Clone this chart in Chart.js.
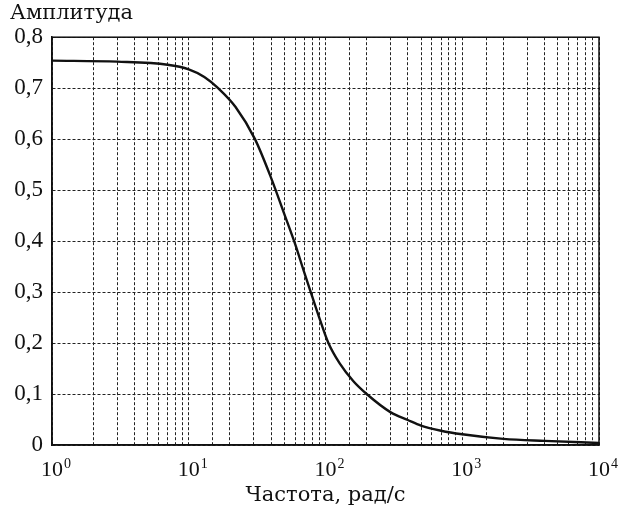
<!DOCTYPE html>
<html>
<head>
<meta charset="utf-8">
<script src="https://cdn.jsdelivr.net/npm/chart.js@4/dist/chart.umd.min.js"></script>
<style>
    html, body { margin: 0; padding: 0; background: #fff; }
    #wrap { width: 618px; height: 511px; }
</style>
</head>
<body>
<div id="wrap"><canvas id="chart-amp"></canvas></div>
<script>
const freqs = [1, 3, 7, 10, 13, 16.4, 22, 30.5, 40, 50, 60, 70, 80, 90, 105, 127, 160, 200, 300, 400, 500, 700, 1000, 2000, 4000, 10000];
const amps = [0.754, 0.752, 0.746, 0.737, 0.722, 0.700, 0.663, 0.600, 0.524, 0.453, 0.394, 0.338, 0.291, 0.250, 0.200, 0.160, 0.125, 0.100, 0.064, 0.049, 0.038, 0.028, 0.021, 0.012, 0.008, 0.004];
const decades = [1, 10, 100, 1000, 10000];
const exponents = ['0', '1', '2', '3', '4'];
const yTicks = [0, 0.1, 0.2, 0.3, 0.4, 0.5, 0.6, 0.7, 0.8];

const serif = '"Liberation Serif", "Times New Roman", serif';
const wideSerif = '"DejaVu Serif", serif';

// full box round the plot area
const frame = {
    id: 'frame',
    afterDraw(chart) {
        const a = chart.chartArea;
        const ctx = chart.ctx;
        ctx.save();
        ctx.strokeStyle = '#111';
        ctx.lineWidth = 1.5;
        ctx.strokeRect(a.left, a.top, a.right - a.left, a.bottom - a.top);
        ctx.restore();
    }
};

// "10" with a raised exponent under each decade
const powerLabels = {
    id: 'powerLabels',
    afterDraw(chart) {
        const sx = chart.scales.x;
        const ctx = chart.ctx;
        const base = chart.chartArea.bottom + 31;
        ctx.save();
        ctx.fillStyle = '#111';
        decades.forEach((d, i) => {
            const px = sx.getPixelForValue(d);
            ctx.font = '22px ' + serif;
            ctx.textAlign = 'center';
            ctx.textBaseline = 'alphabetic';
            const w = ctx.measureText('10').width;
            ctx.fillText('10', px, base);
            ctx.font = '14px ' + serif;
            ctx.textAlign = 'left';
            ctx.fillText(exponents[i], px + w / 2 + 1, base - 8);
        });
        ctx.restore();
    }
};

const ctx = document.getElementById('chart-amp').getContext('2d');
new Chart(ctx, {
    type: 'line',
    data: {
        datasets: [{
            data: freqs.map((f, i) => ({ x: f, y: amps[i] })),
            borderColor: '#111',
            borderWidth: 2.4,
            pointRadius: 0,
            fill: false,
            cubicInterpolationMode: 'monotone'
        }]
    },
    options: {
        responsive: true,
        maintainAspectRatio: false,
        animation: false,
        layout: { padding: { left: 10, right: 19, top: 0, bottom: 0 } },
        plugins: {
            legend: { display: false },
            tooltip: { enabled: false },
            title: {
                display: true,
                text: 'Амплитуда',
                align: 'start',
                color: '#111',
                font: { family: wideSerif, size: 21, weight: 'normal' },
                padding: { top: 1, bottom: 11 }
            }
        },
        scales: {
            x: {
                type: 'logarithmic',
                min: 1,
                max: 10000,
                grid: { color: '#222', lineWidth: 1, drawTicks: false },
                border: { display: true, color: '#111', width: 1.5, dash: [3, 2] },
                ticks: {
                    autoSkip: false,
                    maxRotation: 0,
                    callback: () => ''
                },
                title: {
                    display: true,
                    text: 'Частота, рад/с',
                    color: '#111',
                    font: { family: wideSerif, size: 21 },
                    padding: { top: 0, bottom: 3 }
                },
                afterFit: s => { s.height = 66; }
            },
            y: {
                min: 0,
                max: 0.8,
                afterBuildTicks: s => { s.ticks = yTicks.map(v => ({ value: v })); },
                grid: { color: '#222', lineWidth: 1, drawTicks: false },
                border: { display: true, color: '#111', width: 1.5, dash: [3, 2] },
                ticks: {
                    padding: 9,
                    color: '#111',
                    font: { family: serif, size: 23 },
                    callback: v => v === 0 ? '0' : v.toFixed(1).replace('.', ',')
                },
                afterFit: s => { s.width = 42; }
            }
        }
    },
    plugins: [frame, powerLabels]
});
</script>
</body>
</html>
